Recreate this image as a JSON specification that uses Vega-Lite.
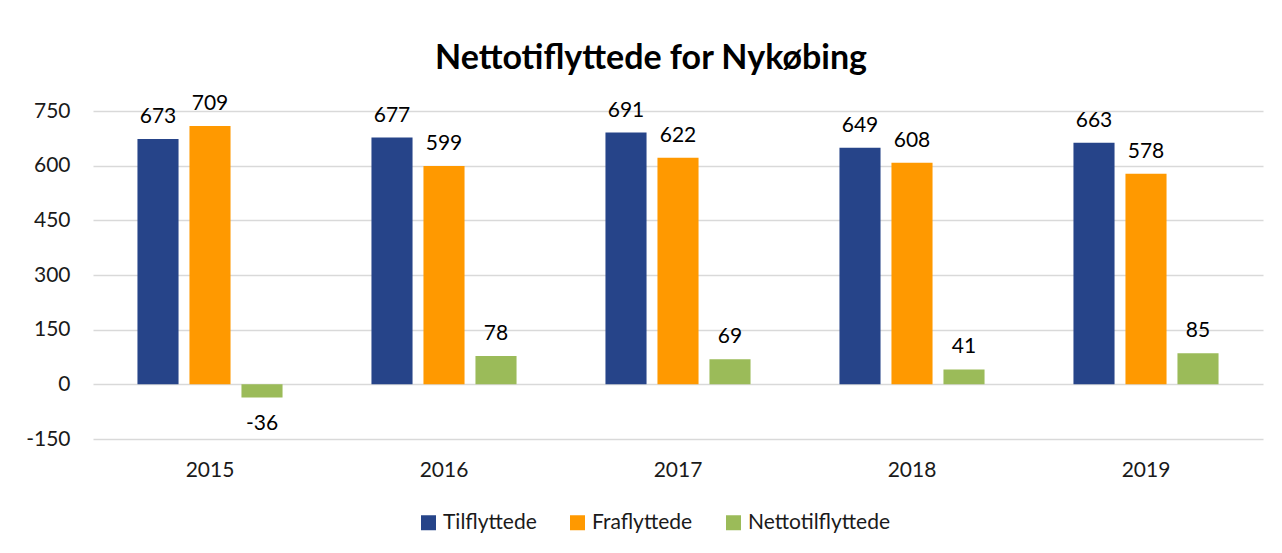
{
  "$schema": "https://vega.github.io/schema/vega-lite/v6.json",
  "autosize": "none",
  "width": 1170,
  "height": 328,
  "padding": {"left": 93, "top": 111, "right": 19, "bottom": 114},
  "background": "#ffffff",
  "config": {"view": {"stroke": null}},
  "title": {
    "text": "Nettotiflyttede for Nykøbing",
    "font": "Lato",
    "fontSize": 34,
    "fontWeight": "bold",
    "color": "#000000",
    "anchor": "middle",
    "dx": -27,
    "offset": 17
  },
  "data": {
    "values": [
      {"year": "2015", "series": "Tilflyttede", "value": 673},
      {"year": "2015", "series": "Fraflyttede", "value": 709},
      {"year": "2015", "series": "Nettotilflyttede", "value": -36},
      {"year": "2016", "series": "Tilflyttede", "value": 677},
      {"year": "2016", "series": "Fraflyttede", "value": 599},
      {"year": "2016", "series": "Nettotilflyttede", "value": 78},
      {"year": "2017", "series": "Tilflyttede", "value": 691},
      {"year": "2017", "series": "Fraflyttede", "value": 622},
      {"year": "2017", "series": "Nettotilflyttede", "value": 69},
      {"year": "2018", "series": "Tilflyttede", "value": 649},
      {"year": "2018", "series": "Fraflyttede", "value": 608},
      {"year": "2018", "series": "Nettotilflyttede", "value": 41},
      {"year": "2019", "series": "Tilflyttede", "value": 663},
      {"year": "2019", "series": "Fraflyttede", "value": 578},
      {"year": "2019", "series": "Nettotilflyttede", "value": 85}
    ]
  },
  "encoding": {
    "x": {
      "field": "year",
      "type": "nominal",
      "scale": {"paddingInner": 0.38, "paddingOuter": 0.19},
      "axis": {
        "title": null,
        "labelAngle": 0,
        "domain": false,
        "ticks": false,
        "labelFont": "Lato",
        "labelFontSize": 21,
        "labelColor": "#1a1a1a",
        "labelPadding": 20
      }
    },
    "xOffset": {
      "field": "series",
      "type": "nominal",
      "sort": ["Tilflyttede", "Fraflyttede", "Nettotilflyttede"],
      "scale": {"paddingInner": 0.21, "paddingOuter": 0}
    },
    "y": {
      "field": "value",
      "type": "quantitative",
      "scale": {"domain": [-150, 750], "nice": false},
      "axis": {
        "title": null,
        "values": [-150, 0, 150, 300, 450, 600, 750],
        "labelExpr": "toString(datum.value)",
        "domain": false,
        "ticks": false,
        "gridColor": "#d9d9d9",
        "gridWidth": 1.5,
        "labelFont": "Lato",
        "labelFontSize": 21,
        "labelColor": "#1a1a1a",
        "labelPadding": 23
      }
    }
  },
  "layer": [
    {
      "mark": {"type": "bar"},
      "encoding": {
        "color": {
          "field": "series",
          "type": "nominal",
          "sort": ["Tilflyttede", "Fraflyttede", "Nettotilflyttede"],
          "scale": {
            "domain": ["Tilflyttede", "Fraflyttede", "Nettotilflyttede"],
            "range": ["#264489", "#ff9900", "#9bbb59"]
          },
          "legend": {
            "title": null,
            "orient": "none",
            "direction": "horizontal",
            "legendX": 325,
            "legendY": 401,
            "padding": 0,
            "symbolType": "square",
            "symbolSize": 225,
            "symbolStrokeWidth": 0,
            "labelFont": "Lato",
            "labelFontSize": 21,
            "labelColor": "#1a1a1a",
            "labelOffset": 4,
            "columnPadding": 30
          }
        }
      }
    },
    {
      "transform": [{"filter": "datum.value >= 0"}],
      "mark": {"type": "text", "font": "Lato", "fontSize": 21, "color": "#000000", "baseline": "alphabetic", "dy": -16},
      "encoding": {"text": {"field": "value", "type": "nominal"}}
    },
    {
      "transform": [{"filter": "datum.value < 0"}],
      "mark": {"type": "text", "font": "Lato", "fontSize": 21, "color": "#000000", "baseline": "top", "dy": 16},
      "encoding": {"text": {"field": "value", "type": "nominal"}}
    }
  ]
}
